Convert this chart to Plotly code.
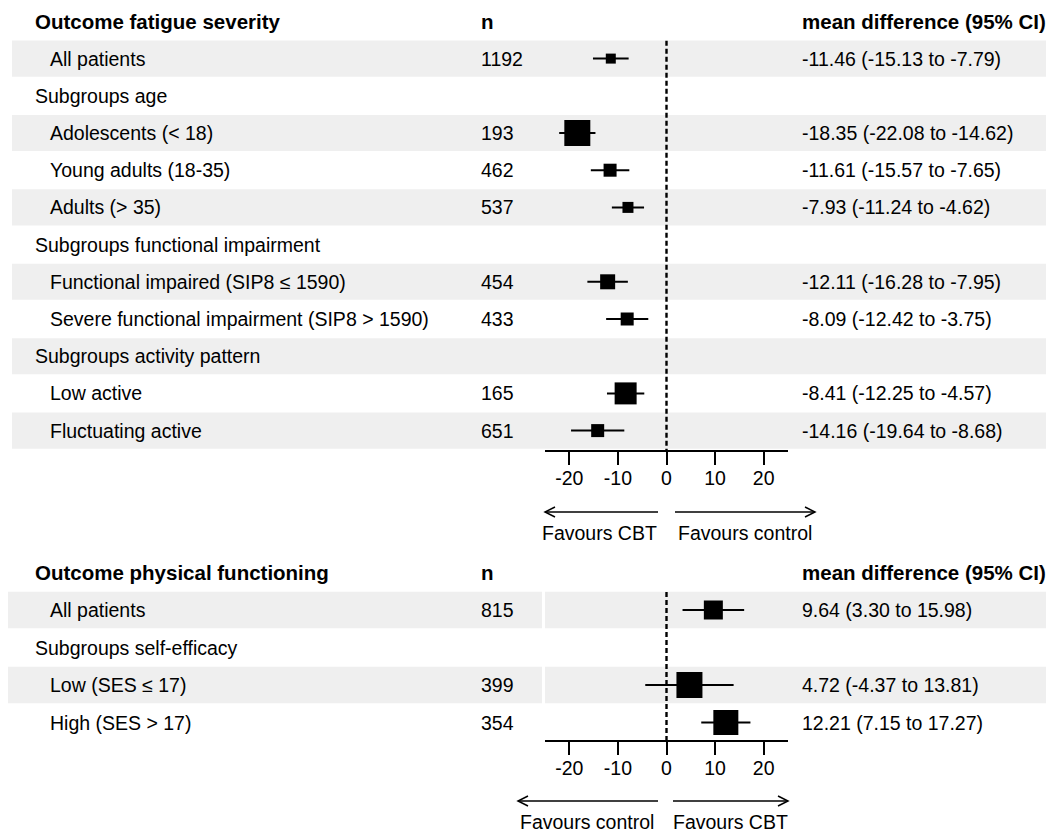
import plotly.graph_objects as go

# ---------------- data ----------------
top_labels = ["All patients", "Subgroups age", "Adolescents (< 18)", "Young adults (18-35)",
              "Adults (> 35)", "Subgroups functional impairment",
              "Functional impaired (SIP8 ≤ 1590)", "Severe functional impairment (SIP8 > 1590)",
              "Subgroups activity pattern", "Low active", "Fluctuating active"]
top_is_group = [False, True, False, False, False, True, False, False, True, False, False]
top_n = ["1192", "", "193", "462", "537", "", "454", "433", "", "165", "651"]
top_est = [-11.46, None, -18.35, -11.61, -7.93, None, -12.11, -8.09, None, -8.41, -14.16]
top_lo = [-15.13, None, -22.08, -15.57, -11.24, None, -16.28, -12.42, None, -12.25, -19.64]
top_hi = [-7.79, None, -14.62, -7.65, -4.62, None, -7.95, -3.75, None, -4.57, -8.68]

bot_labels = ["All patients", "Subgroups self-efficacy", "Low (SES ≤ 17)", "High (SES > 17)"]
bot_is_group = [False, True, False, False]
bot_n = ["815", "", "399", "354"]
bot_est = [9.64, None, 4.72, 12.21]
bot_lo = [3.30, None, -4.37, 7.15]
bot_hi = [15.98, None, 13.81, 17.27]

tick_vals = [-20, -10, 0, 10, 20]
tick_text = ["-20", "-10", "0", "10", "20"]
x_range = [-25, 25]

# ---------------- style ----------------
PAGE_W, PAGE_H = 1054, 832
OFF = 8  # default page body margin
W, H = PAGE_W - OFF, PAGE_H - OFF
FONT = "Liberation Sans, Arial, sans-serif"
FS = 19.5
FSB = 20.5
BAND = "#efefef"
top_box_px = [10, 0, 26, 13, 11, 0, 15, 13, 0, 22, 13]
bot_box_px = [19, 0, 26, 25]


def X(px):
    return (px - OFF) / W


def Y(py):
    return 1 - (py - OFF) / H


# row geometry (page pixels)
TOP_ROW0, TOP_STEP, TOP_AXIS_PX = 58.6, 37.2, 450
BOT_ROW0, BOT_STEP, BOT_AXIS_PX = 610.0, 37.5, 740
TOP_DOM_TOP_PX, BOT_DOM_TOP_PX = 8, 550

fig = go.Figure()
shapes = []
annotations = []


def panel(labels, is_group, ns, est, lo, hi, box_px, xa, ya, row0, step, axis_px, dom_top_px,
          title, band_segments, arrows, arrow_y, fav_texts, fav_y):
    rows = list(range(len(labels)))
    ymax = (axis_px - row0) / step
    ymin = (dom_top_px - row0) / step
    xref = "x" if xa == "xaxis" else "x2"
    yref = "y" if ya == "yaxis" else "y2"
    for i in rows:
        if i % 2 == 0:
            for (a, b) in band_segments:
                shapes.append(dict(type="rect", xref="paper", yref=yref, x0=X(a), x1=X(b),
                                   y0=i - 0.485, y1=i + 0.485, fillcolor=BAND,
                                   line=dict(width=0), layer="below"))
    shapes.append(dict(type="line", xref=xref, yref=yref, x0=0, x1=0, y0=-0.48, y1=ymax,
                       line=dict(color="black", width=2.4, dash="5px,3px"), layer="below"))
    hdr_font = dict(size=FSB, family=FONT, color="black")
    txt_font = dict(size=FS, family=FONT, color="black")
    annotations.append(dict(text="<b>%s</b>" % title, x=X(33), y=-1, xref="paper", yref=yref,
                            xanchor="left", yanchor="middle", showarrow=False, font=hdr_font))
    annotations.append(dict(text="<b>n</b>", x=X(479), y=-1, xref="paper", yref=yref,
                            xanchor="left", yanchor="middle", showarrow=False, font=hdr_font))
    annotations.append(dict(text="<b>mean difference (95% CI)</b>", x=X(800), y=-1,
                            xref="paper", yref=yref, xanchor="left", yanchor="middle",
                            showarrow=False, font=hdr_font))
    for i in rows:
        annotations.append(dict(text=labels[i], x=X(33 if is_group[i] else 48), y=i,
                                xref="paper", yref=yref, xanchor="left", yanchor="middle",
                                showarrow=False, font=txt_font))
        if ns[i]:
            annotations.append(dict(text=ns[i], x=X(479), y=i, xref="paper", yref=yref,
                                    xanchor="left", yanchor="middle", showarrow=False,
                                    font=txt_font))
        if est[i] is not None:
            txt = "%.2f (%.2f to %.2f)" % (est[i], lo[i], hi[i])
            annotations.append(dict(text=txt, x=X(800), y=i, xref="paper", yref=yref,
                                    xanchor="left", yanchor="middle", showarrow=False,
                                    font=txt_font))
    idx = [i for i in rows if est[i] is not None]
    fig.add_trace(go.Scatter(
        x=[est[i] for i in idx], y=idx, mode="markers", xaxis=xref, yaxis=yref, opacity=1,
        marker=dict(symbol="square", size=[box_px[i] for i in idx], color="#000000",
                    opacity=1, line=dict(width=0)),
        error_x=dict(type="data", symmetric=False,
                     array=[hi[i] - est[i] for i in idx],
                     arrayminus=[est[i] - lo[i] for i in idx],
                     color="#000000", thickness=2, width=0),
        showlegend=False, hoverinfo="skip", cliponaxis=False))
    fig.update_layout(**{
        xa: dict(domain=[X(545), X(788)], range=x_range, tickvals=tick_vals,
                 ticktext=tick_text, ticks="outside", ticklen=13, tickwidth=2,
                 tickcolor="black", ticklabelstandoff=-3,
                 showline=True, linecolor="black", linewidth=2, showgrid=False,
                 zeroline=False, anchor=yref, fixedrange=True,
                 tickfont=dict(size=FS, family=FONT, color="black")),
        ya: dict(domain=[Y(axis_px), Y(dom_top_px)], range=[ymax, ymin], visible=False,
                 anchor=xref, fixedrange=True),
    })
    for (x_tail, x_head) in arrows:
        shapes.append(dict(type="line", xref="paper", yref="paper", x0=X(x_tail), x1=X(x_head),
                           y0=Y(arrow_y), y1=Y(arrow_y), line=dict(color="black", width=1.5)))
        d = 10 if x_head < x_tail else -10
        path = "M %f,%f L %f,%f L %f,%f" % (X(x_head + d), Y(arrow_y - 5), X(x_head), Y(arrow_y),
                                            X(x_head + d), Y(arrow_y + 5))
        shapes.append(dict(type="path", xref="paper", yref="paper", path=path,
                           line=dict(color="black", width=1.5)))
    for (txt, cx) in fav_texts:
        annotations.append(dict(text=txt, x=X(cx), y=Y(fav_y), xref="paper", yref="paper",
                                xanchor="center", yanchor="middle", showarrow=False,
                                font=txt_font))


panel(top_labels, top_is_group, top_n, top_est, top_lo, top_hi, top_box_px, "xaxis", "yaxis",
      TOP_ROW0, TOP_STEP, TOP_AXIS_PX, TOP_DOM_TOP_PX, "Outcome fatigue severity",
      [(12, PAGE_W)], [(658, 545), (675, 815)], 512,
      [("Favours CBT", 599), ("Favours control", 745)], 533)

panel(bot_labels, bot_is_group, bot_n, bot_est, bot_lo, bot_hi, bot_box_px, "xaxis2", "yaxis2",
      BOT_ROW0, BOT_STEP, BOT_AXIS_PX, BOT_DOM_TOP_PX, "Outcome physical functioning",
      [(8, 542), (545, PAGE_W)], [(658, 518), (673, 788)], 801,
      [("Favours control", 587), ("Favours CBT", 730)], 822)

fig.update_layout(width=W, height=H, margin=dict(l=0, r=0, t=0, b=0),
                  paper_bgcolor="white", plot_bgcolor="rgba(0,0,0,0)",
                  shapes=shapes, annotations=annotations,
                  font=dict(family=FONT, color="black"))

fig.write_html("out.html")
